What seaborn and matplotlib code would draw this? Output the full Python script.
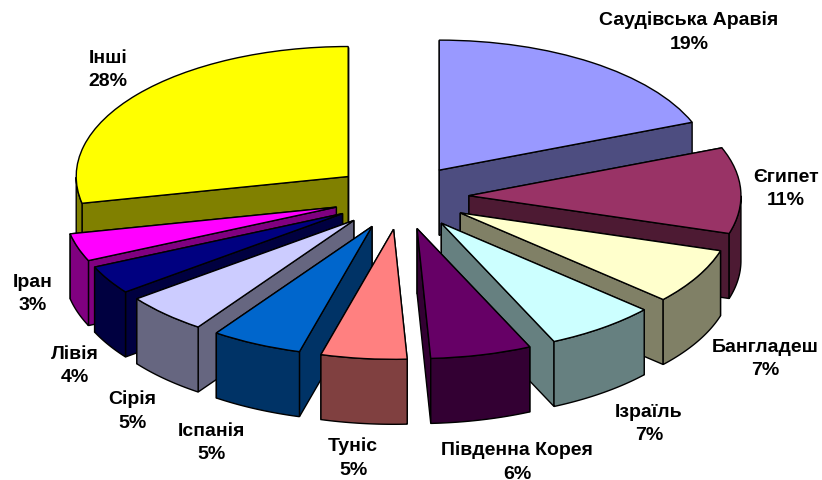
import numpy as np
import seaborn as sns
import matplotlib.pyplot as plt
from matplotlib.colors import to_rgb
from matplotlib.patches import Polygon

countries = ["Саудівська Аравія", "Єгипет", "Бангладеш", "Ізраїль", "Південна Корея",
             "Туніс", "Іспанія", "Сірія", "Лівія", "Іран", "Інші"]
# the labels show them rounded
shares = [19.0, 10.7, 6.9, 6.6, 6.0, 5.1, 5.4, 5.0, 3.55, 3.45, 28.3]
colors = ["#9999FF", "#993366", "#FFFFCC", "#CCFFFF", "#660066", "#FF8080",
          "#0066CC", "#CCCCFF", "#000080", "#FF00FF", "#FFFF00"]

# label centres in pixels of the 822x481 picture
label_xy = [(689, 32), (786, 189), (765, 359), (649, 424), (517, 462),
            (353, 458), (211, 443), (132, 411), (75, 366), (33, 294), (108, 70)]

W, H = 822, 481
RX, RY = 272, 130   # pie radii on screen
CX, CY = 401, 198   # pie centre on screen
DEPTH = 0.5         # wall height, in units of RY
EDGE = 1.0

sns.set_style("white")
plt.rcParams["font.family"] = ["Liberation Sans", "DejaVu Sans"]

fig = plt.figure(figsize=(W / 100, H / 100), dpi=100)
ax = fig.add_axes([0, 0, 1, 1])
wedges, _ = ax.pie(shares, colors=colors, startangle=90, counterclock=False,
                   explode=[0.25] * len(shares), radius=1,
                   wedgeprops={"edgecolor": "black", "linewidth": EDGE})
ax.set_aspect("auto")
ax.set_xlim(-CX / RX, (W - CX) / RX)
ax.set_ylim((CY - H) / RY, CY / RY)
ax.axis("off")


def wall(pts, color, z):
    pts = np.array(pts)
    low = pts[::-1] - [0, DEPTH]
    ax.add_patch(Polygon(np.vstack([pts, low]), closed=True, facecolor=color,
                         edgecolor="black", linewidth=EDGE, zorder=z))


# paint back to front so near slices cover the walls of far ones
mids = [np.radians((w.theta1 + w.theta2) / 2) for w in wedges]
order = np.argsort([-np.sin(m) for m in mids])
for rank, i in enumerate(order):
    w = wedges[i]
    dark = tuple(c * 0.5 for c in to_rgb(colors[i]))
    cx, cy = w.center
    t = np.radians(np.linspace(w.theta1, w.theta2, 300))
    arc = np.column_stack([cx + np.cos(t), cy + np.sin(t)])
    z = 10 + rank * 5
    # the radial face whose rim lies further back goes first
    ends = sorted([arc[0], arc[-1]], key=lambda p: -p[1])
    wall([(cx, cy), ends[0]], dark, z)
    wall([(cx, cy), ends[1]], dark, z + 1)
    front = np.sin(t) < 0
    if front.any():
        wall(arc[front], dark, z + 2)
    w.set_zorder(z + 3)

for name, share, (x, y) in zip(countries, shares, label_xy):
    fig.text(x / W, 1 - y / H, f"{name}\n{share:.0f}%", ha="center", va="center",
             fontsize=14, fontweight="bold", color="black", linespacing=1.5)

fig.savefig("out.png", dpi=100)
